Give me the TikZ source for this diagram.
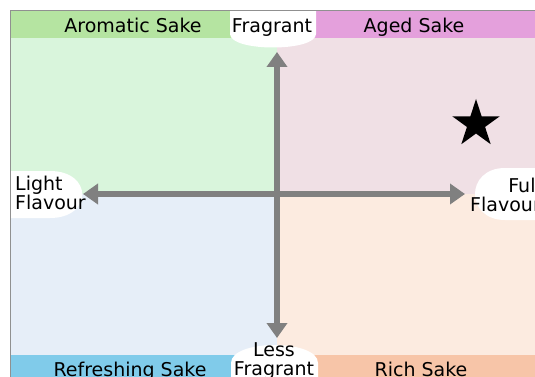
\documentclass[tikz,border=0pt]{standalone}
\usepackage{fontspec}
\setmainfont{DejaVu Sans}
\usetikzlibrary{arrows.meta,shapes.geometric}

\definecolor{aromaband}{HTML}{B5E4A1}
\definecolor{aromalight}{HTML}{D9F5DC}
\definecolor{agedband}{HTML}{E4A0DC}
\definecolor{agedlight}{HTML}{F0E0E5}
\definecolor{freshband}{HTML}{80CBEA}
\definecolor{freshlight}{HTML}{E6EEF8}
\definecolor{richband}{HTML}{F7C5A8}
\definecolor{richlight}{HTML}{FCEBE0}
\definecolor{axisgray}{HTML}{808080}
\definecolor{framegray}{HTML}{909090}

\begin{document}
\begin{tikzpicture}[x=1pt,y=-1pt,
  label/.style={font=\fontsize{19}{19}\selectfont,inner sep=0pt,anchor=base},
  axis/.style={line width=6pt,draw=axisgray,
    {Triangle[width=20pt,length=15pt]}-{Triangle[width=20pt,length=15pt]}}]
\useasboundingbox (0,0) rectangle (535,377);

\begin{scope}
\clip (10,10) rectangle (535,377);
% quadrants
\fill[aromalight] (10,38) rectangle (277,194);
\fill[agedlight] (277,38) rectangle (535,194);
\fill[freshlight] (10,194) rectangle (277,355);
\fill[richlight] (277,194) rectangle (535,355);
% bands
\fill[aromaband] (10,10) rectangle (277,38);
\fill[agedband] (277,10) rectangle (535,38);
\fill[freshband] (10,355) rectangle (277,377);
\fill[richband] (277,355) rectangle (535,377);
% white patches behind the axis words
\fill[white] (230,0) -- (230,34) .. controls (230,52) and (316,52) .. (316,34) -- (316,0) -- cycle;
\fill[white] (231,395) -- (231,363) .. controls (231,339) and (318,339) .. (318,363) -- (318,395) -- cycle;
\fill[white] (-30,171) -- (50,171) .. controls (93,171) and (93,218) .. (50,218) -- (-30,218) -- cycle;
\fill[white] (570,168) -- (505,168) .. controls (465,168) and (465,220) .. (505,220) -- (570,220) -- cycle;
\end{scope}
\draw[framegray] (535,10) -- (10,10) -- (10,377);

% axes
\coordinate (up) at (277,52);
\coordinate (down) at (277,338);
\coordinate (left) at (83,194);
\coordinate (right) at (465,194);
\draw[axis] (down) -- (up);
\draw[axis] (left) -- (right);

% labels (two-line nodes sit on their last baseline)
\node[label] (aromatic) at (133,32.2) {Aromatic Sake};
\node[label] (fragrant) at (272,32.2) {Fragrant};
\node[label] (aged) at (414,32.2) {Aged Sake};
\node[label] (refreshing) at (130,376.3) {Refreshing Sake};
\node[label] (rich) at (421,376.3) {Rich Sake};
\node[label,align=center] (lessfrag) at (274,375.3) {Less\\Fragrant};
\node[label,align=left,anchor=base west] (light) at (15,209) {Light\\Flavour};
\node[label,align=right,anchor=base east] (full) at (541,211) {Full\\Flavour};

\node[star,star points=5,star point ratio=2.618,fill=black,inner sep=0pt,
  minimum size=50pt] (star) at (476,124) {};
\end{tikzpicture}
\end{document}
